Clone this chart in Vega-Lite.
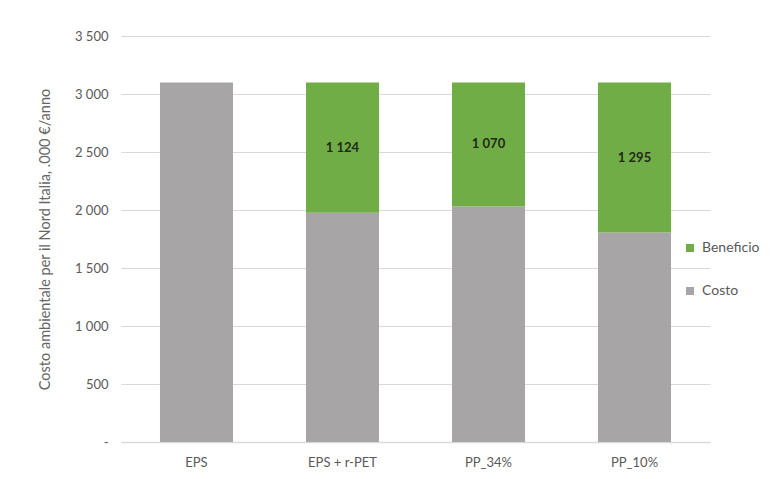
{
  "$schema": "https://vega.github.io/schema/vega-lite/v6.json",
  "autosize": "none",
  "padding": {"left": 121, "top": 36, "right": 73, "bottom": 37},
  "width": 589,
  "height": 406,
  "background": "#ffffff",
  "config": {
    "font": "Lato",
    "view": {"stroke": null},
    "locale": {
      "number": {"decimal": ",", "thousands": "\u00a0", "grouping": [3], "currency": ["", " €"]}
    }
  },
  "data": {
    "values": [
      {"scenario": "EPS", "voce": "Costo", "valore": 3100, "ordine": 0},
      {"scenario": "EPS + r-PET", "voce": "Costo", "valore": 1976, "ordine": 0},
      {"scenario": "EPS + r-PET", "voce": "Beneficio", "valore": 1124, "ordine": 1},
      {"scenario": "PP_34%", "voce": "Costo", "valore": 2030, "ordine": 0},
      {"scenario": "PP_34%", "voce": "Beneficio", "valore": 1070, "ordine": 1},
      {"scenario": "PP_10%", "voce": "Costo", "valore": 1805, "ordine": 0},
      {"scenario": "PP_10%", "voce": "Beneficio", "valore": 1295, "ordine": 1}
    ]
  },
  "encoding": {
    "x": {
      "field": "scenario",
      "type": "nominal",
      "sort": ["EPS", "EPS + r-PET", "PP_34%", "PP_10%"],
      "scale": {"paddingInner": 0.5, "paddingOuter": 0.267},
      "axis": {
        "title": null,
        "labelAngle": 0,
        "labelFontSize": 13,
        "labelColor": "#595959",
        "labelPadding": 14,
        "ticks": false,
        "domainColor": "#d9d9d9",
        "domainWidth": 1.5,
        "grid": false
      }
    },
    "y": {
      "field": "valore",
      "type": "quantitative",
      "stack": "zero",
      "scale": {"domain": [0, 3500], "nice": false},
      "axis": {
        "title": "Costo ambientale per il Nord Italia, .000 €/anno",
        "titleFontSize": 14.5,
        "titleFontWeight": "normal",
        "titleColor": "#666666",
        "titlePadding": 22,
        "values": [0, 500, 1000, 1500, 2000, 2500, 3000, 3500],
        "labelExpr": "datum.value == 0 ? '-' : (datum.value >= 1000 ? floor(datum.value / 1000) + '\u00a0' + substring('' + (datum.value % 1000 + 1000), 1) : '' + datum.value)",
        "labelFontSize": 13,
        "labelColor": "#595959",
        "labelPadding": 13,
        "ticks": false,
        "domain": false,
        "grid": true,
        "gridColor": "#d9d9d9",
        "gridWidth": 1
      }
    }
  },
  "layer": [
    {
      "mark": {"type": "bar"},
      "encoding": {
        "color": {
          "field": "voce",
          "type": "nominal",
          "scale": {"domain": ["Beneficio", "Costo"], "range": ["#70ad47", "#a8a5a6"]},
          "legend": {
            "title": null,
            "orient": "none",
            "legendX": 562,
            "legendY": 205,
            "symbolType": "square",
            "symbolSize": 64,
            "symbolStrokeWidth": 0,
            "labelFontSize": 14,
            "labelColor": "#595959",
            "labelOffset": 5,
            "rowPadding": 29
          }
        },
        "order": {"field": "ordine", "type": "quantitative"}
      }
    },
    {
      "mark": {"type": "text", "fontSize": 13, "fontWeight": "bold", "color": "#1f2a17"},
      "encoding": {
        "y": {"field": "valore", "type": "quantitative", "stack": "zero", "bandPosition": 0.5},
        "order": {"field": "ordine", "type": "quantitative"},
        "detail": {"field": "voce"},
        "text": {
          "condition": {"test": "datum.voce == 'Beneficio'", "field": "valore", "type": "quantitative", "format": ","},
          "value": ""
        }
      }
    }
  ]
}
